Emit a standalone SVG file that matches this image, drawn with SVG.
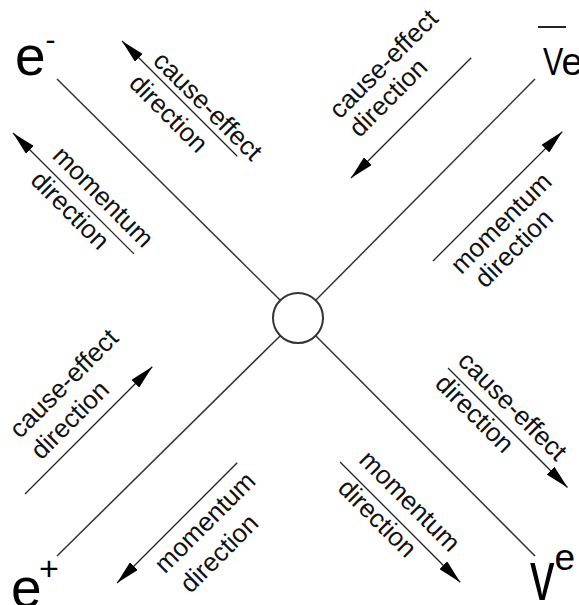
<svg xmlns="http://www.w3.org/2000/svg" width="579" height="605" viewBox="0 0 579 605">
<style>
  .ln { stroke:#333; stroke-width:1.5; fill:none; }
  .ar { stroke:#222; stroke-width:1.3; fill:none; }
  .lbl { font-family:"Liberation Sans", Arial, sans-serif; font-size:26px; fill:#111; }
  .big { font-family:"Liberation Sans", Arial, sans-serif; fill:#000; }
</style>
<defs>
  <marker id="ah" markerUnits="userSpaceOnUse" markerWidth="24" markerHeight="11" viewBox="0 0 24 11" refX="24" refY="5.5" orient="auto">
    <path d="M0,0 L24,5.5 L0,11 z" fill="#000"/>
  </marker>
</defs>
<rect width="579" height="605" fill="#fff"/>

<g id="connectors">
  <line class="ln" x1="57" y1="79" x2="280.3" y2="300.3"/>
  <line class="ln" x1="535" y1="79" x2="315.7" y2="300.3"/>
  <line class="ln" x1="57" y1="556" x2="280.3" y2="335.7"/>
  <line class="ln" x1="535" y1="556" x2="315.7" y2="335.7"/>
</g>

<g id="vertex">
  <circle cx="298" cy="318" r="25" fill="#fff" stroke="#333" stroke-width="2"/>
</g>

<g id="e-minus">
  <text class="big" x="15" y="75" font-size="55">e<tspan font-size="30" dy="-25">-</tspan></text>
</g>
<g id="nu-e-bar">
  <text class="big" font-size="38" transform="translate(543,75) scale(0.8,1)">V</text>
  <text class="big" font-size="38" x="561.5" y="75">e</text>
  <line x1="538" y1="27" x2="566" y2="27" stroke="#222" stroke-width="2"/>
</g>
<g id="e-plus">
  <text class="big" x="11" y="607" font-size="55">e<tspan font-size="34" x="39" y="580">+</tspan></text>
</g>
<g id="nu-e">
  <text class="big" font-size="71" transform="translate(530,600) scale(0.69,1)">v</text>
  <text class="big" font-size="37" x="554.5" y="570">e</text>
</g>

<g id="tl-cause">
  <g transform="translate(122,41) rotate(45)">
    <line class="ar" x1="163" y1="0" x2="0" y2="0" marker-end="url(#ah)"/>
    <text class="lbl" x="36" y="-6">cause-effect</text>
    <text class="lbl" x="35" y="27">direction</text>
  </g>
</g>
<g id="tl-momentum">
  <g transform="translate(13,133) rotate(45)">
    <line class="ar" x1="171" y1="0" x2="0" y2="0" marker-end="url(#ah)"/>
    <text class="lbl" x="44" y="-10">momentum</text>
    <text class="lbl" x="46" y="23">direction</text>
  </g>
</g>
<g id="tr-cause">
  <g transform="translate(351,178) rotate(-45)">
    <line class="ar" x1="170" y1="0" x2="0" y2="0" marker-end="url(#ah)"/>
    <text class="lbl" x="33" y="-49">cause-effect</text>
    <text class="lbl" x="34" y="-22">direction</text>
  </g>
</g>
<g id="tr-momentum">
  <g transform="translate(433,261) rotate(-45)">
    <line class="ar" x1="0" y1="0" x2="183" y2="0" marker-end="url(#ah)"/>
    <text class="lbl" x="10" y="30">momentum</text>
    <text class="lbl" x="17" y="57">direction</text>
  </g>
</g>
<g id="bl-cause">
  <g transform="translate(25,494) rotate(-45)">
    <line class="ar" x1="0" y1="0" x2="180" y2="0" marker-end="url(#ah)"/>
    <text class="lbl" x="35" y="-42">cause-effect</text>
    <text class="lbl" x="35" y="-12">direction</text>
  </g>
</g>
<g id="bl-momentum">
  <g transform="translate(117,583) rotate(-45)">
    <line class="ar" x1="170" y1="0" x2="0" y2="0" marker-end="url(#ah)"/>
    <text class="lbl" x="40" y="28">momentum</text>
    <text class="lbl" x="44" y="60">direction</text>
  </g>
</g>
<g id="br-cause">
  <g transform="translate(448,368) rotate(45)">
    <line class="ar" x1="0" y1="0" x2="169" y2="0" marker-end="url(#ah)"/>
    <text class="lbl" x="2" y="-10">cause-effect</text>
    <text class="lbl" x="2" y="22">direction</text>
  </g>
</g>
<g id="br-momentum">
  <g transform="translate(340,462) rotate(45)">
    <line class="ar" x1="0" y1="0" x2="170" y2="0" marker-end="url(#ah)"/>
    <text class="lbl" x="12" y="-13">momentum</text>
    <text class="lbl" x="17" y="22">direction</text>
  </g>
</g>
</svg>
